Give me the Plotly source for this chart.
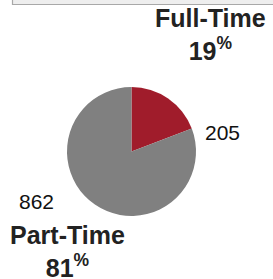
import plotly.graph_objects as go

categories = ["Full-Time", "Part-Time"]
values = [205, 862]
colors = ["#A01C2B", "#808080"]

total = sum(values)
pcts = [round(v / total * 100) for v in values]

W, H = 273, 279


def px(x):
    return x / W


def py(y):
    return 1 - y / H


fig = go.Figure(go.Pie(
    labels=categories,
    values=values,
    sort=False,
    direction="clockwise",
    rotation=0,
    marker=dict(colors=colors, line=dict(width=0)),
    textinfo="none",
    hoverinfo="label+value+percent",
    domain=dict(x=[px(67), px(196)], y=[py(216), py(87)]),
    showlegend=False,
))

font_bold = dict(family="Liberation Sans, Arial, sans-serif", size=25, color="#222222")
font_reg = dict(family="Liberation Sans, Arial, sans-serif", size=21, color="#111111")

annotations = [
    dict(x=px(210), y=py(34.5),
         text="<b>%s</b><br><b>%d<sup>%%</sup></b>" % (categories[0], pcts[0]), font=font_bold),
    dict(x=px(222), y=py(133), text="%d" % values[0], font=font_reg),
    dict(x=px(36), y=py(201), text="%d" % values[1], font=font_reg),
    dict(x=px(67), y=py(251),
         text="<b>%s</b><br><b>%d<sup>%%</sup></b>" % (categories[1], pcts[1]), font=font_bold),
]
for a in annotations:
    a.update(xref="paper", yref="paper", showarrow=False, xanchor="center",
             yanchor="middle", align="center")

fig.update_layout(
    width=W, height=H,
    margin=dict(l=0, r=0, t=0, b=0),
    paper_bgcolor="white",
    plot_bgcolor="white",
    annotations=annotations,
    shapes=[dict(type="rect", xref="paper", yref="paper",
                 x0=px(12.5), x1=px(300), y0=py(4.5), y1=py(-20),
                 fillcolor="#EEEEEE", line=dict(color="#A8A8A8", width=1.2))],
)

fig.write_html("out.html",
               config={"displayModeBar": False},
               post_script="document.body.style.margin='0';document.body.style.overflow='hidden';")
